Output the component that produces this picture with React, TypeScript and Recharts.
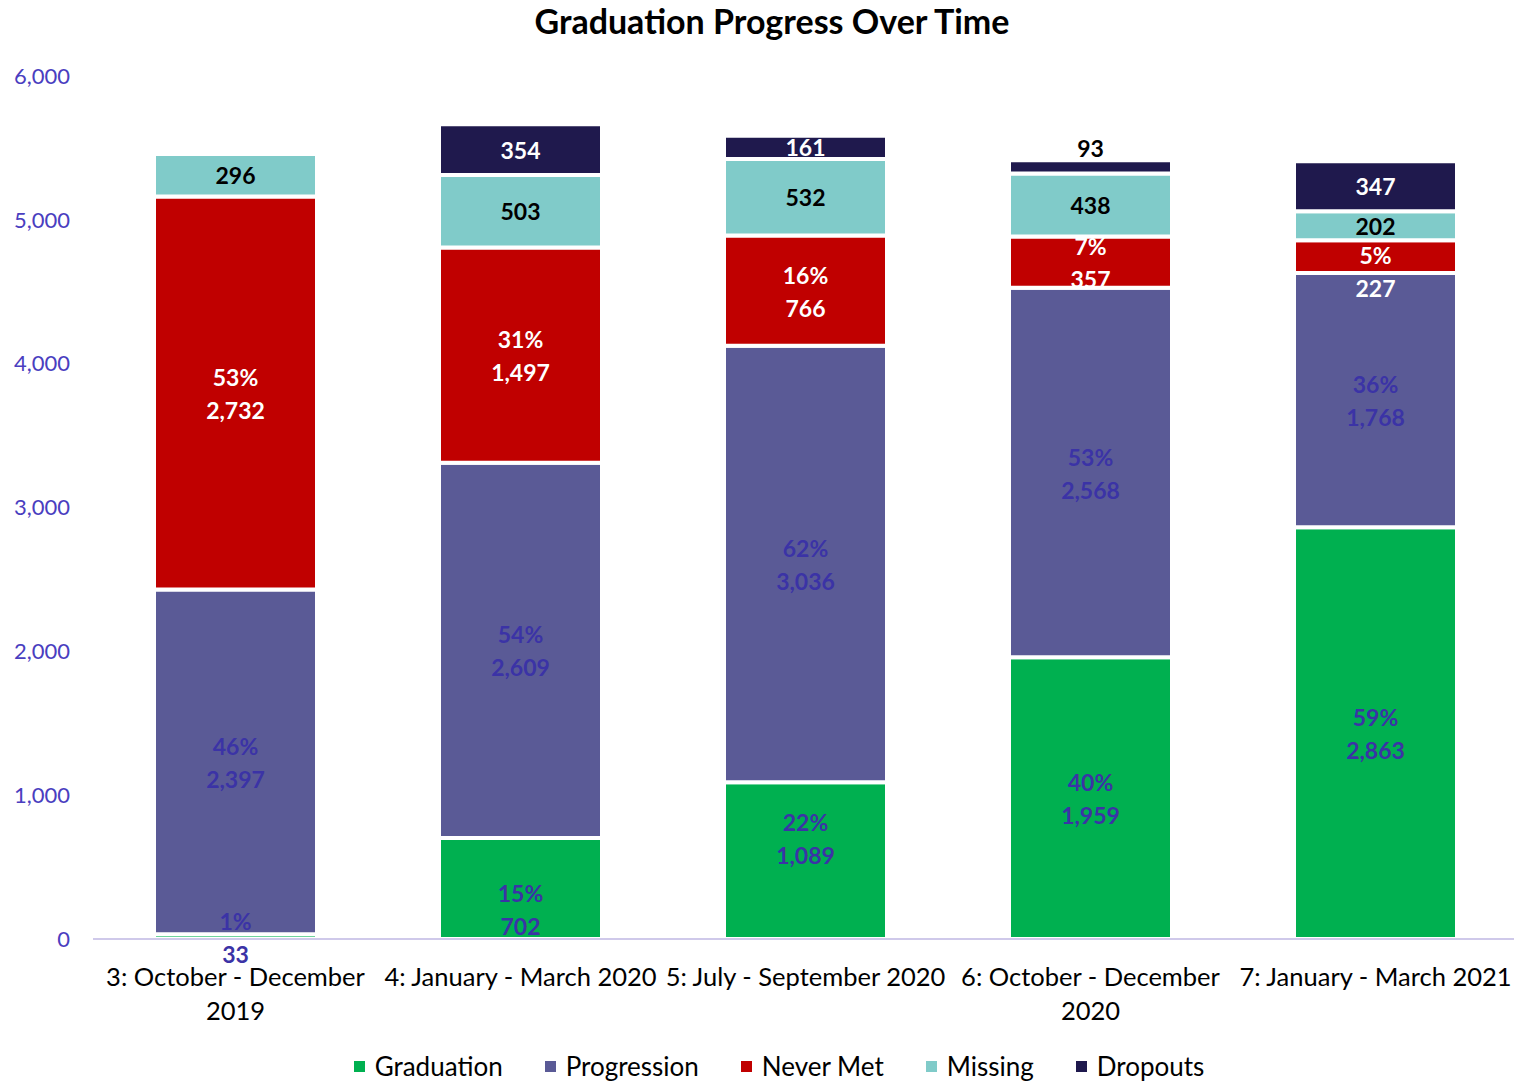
import React from 'react';
import { BarChart, Bar, XAxis, YAxis, LabelList } from 'recharts';

const categories = [
    '3: October - December 2019',
    '4: January - March 2020',
    '5: July - September 2020',
    '6: October - December 2020',
    '7: January - March 2021',
];
const graduation = [33, 702, 1089, 1959, 2863];
const progression = [2397, 2609, 3036, 2568, 1768];
const neverMet = [2732, 1497, 766, 357, 227];
const missing = [296, 503, 532, 438, 202];
const dropouts = [0, 354, 161, 93, 347];
const yTicks = [0, 1000, 2000, 3000, 4000, 5000, 6000];

const SERIES = [
    { key: 'graduation', name: 'Graduation', color: '#00B050' },
    { key: 'progression', name: 'Progression', color: '#5A5A96' },
    { key: 'neverMet', name: 'Never Met', color: '#C00000' },
    { key: 'missing', name: 'Missing', color: '#80CBC9' },
    { key: 'dropouts', name: 'Dropouts', color: '#1F194D' },
];

// a few labels were dragged by hand in the original (px, +down)
const labelNudge: Record<string, number[]> = {
    graduation: [0, 20, -23, 0, 0],
    neverMet: [0, 0, 0, 0, 14],
};

const FONT = 'Lato, "Open Sans", sans-serif';
const LABEL_BLUE = '#3B33A6';

const data = categories.map((name, i) => ({
    name,
    graduation: graduation[i],
    progression: progression[i],
    neverMet: neverMet[i],
    missing: missing[i],
    dropouts: dropouts[i],
    base: graduation[i] + progression[i] + neverMet[i],
}));

const fmt = (v: number) => v.toLocaleString('en-US');

// two-line label: share of graduation+progression+never met, then count
function pctLabel(key: 'graduation' | 'progression' | 'neverMet', fill: string) {
    return (p: any) => {
        const { x, y, width, height, index } = p;
        const row = data[index];
        const v = row[key];
        if (!v) return null;
        const pct = Math.round((v / row.base) * 100);
        const cx = x + width / 2;
        const cy = y + height / 2 + (labelNudge[key]?.[index] ?? 0);
        return (
            <g>
                <text x={cx} y={cy - 16} textAnchor="middle" dominantBaseline="central"
                    fill={fill} fontSize={23} fontWeight={700} fontFamily={FONT}>{pct}%</text>
                <text x={cx} y={cy + 17} textAnchor="middle" dominantBaseline="central"
                    fill={fill} fontSize={23} fontWeight={700} fontFamily={FONT}>{fmt(v)}</text>
            </g>
        );
    };
}

function valueLabel(fill: string, smallFill: string) {
    return (p: any) => {
        const { x, y, width, height, value } = p;
        if (!value) return null;
        const small = Math.abs(height) < 18;
        const cy = small ? y - 12 : y + height / 2;
        return (
            <text x={x + width / 2} y={cy} textAnchor="middle" dominantBaseline="central"
                fill={small ? smallFill : fill} fontSize={23} fontWeight={700} fontFamily={FONT}>
                {fmt(value)}
            </text>
        );
    };
}

function CategoryTick(props: any) {
    const { x, y, payload } = props;
    const label: string = payload.value;
    let lines = [label];
    if (label.length > 24) {
        const cut = label.lastIndexOf(' ');
        lines = [label.slice(0, cut), label.slice(cut + 1)];
    }
    return (
        <g>
            {lines.map((l, i) => (
                <text key={i} x={x} y={y + 39 + i * 34} textAnchor="middle" fill="#000"
                    fontSize={25.5} fontFamily={FONT}>{l}</text>
            ))}
        </g>
    );
}

function LegendRow() {
    return (
        <div style={{ display: 'flex', justifyContent: 'center', gap: 42, fontFamily: FONT, fontSize: 26, color: '#000' }}>
            {SERIES.map(s => (
                <div key={s.key} style={{ display: 'flex', alignItems: 'center' }}>
                    <span style={{ width: 11, height: 11, background: s.color, marginRight: 10, display: 'inline-block' }} />
                    {s.name}
                </div>
            ))}
        </div>
    );
}

export default function App() {
    return (
        <div style={{ position: 'fixed', left: 0, top: 0, width: 1514, height: 1083, background: '#fff', overflow: 'hidden' }}>
            <div style={{ position: 'absolute', top: 0, left: 472, width: 600, textAlign: 'center',
                fontFamily: FONT, fontWeight: 700, fontSize: 34, color: '#000' }}>
                Graduation Progress Over Time
            </div>
            <div style={{ position: 'absolute', top: 0, left: 0 }}>
                <BarChart width={1518} height={1040} data={data}
                    margin={{ top: 76, right: 0, left: 0, bottom: 0 }} barSize={163}>
                    <YAxis domain={[0, 6000]} ticks={yTicks} interval={0} width={93}
                        axisLine={false} tickLine={false} tickMargin={17}
                        tick={{ fill: '#4A3EC0', fontSize: 22, fontFamily: FONT }}
                        tickFormatter={(v) => fmt(Number(v))} />
                    <XAxis dataKey="name" interval={0} height={101} tickLine={false}
                        axisLine={{ stroke: '#CFC9EA', strokeWidth: 2 }} tick={<CategoryTick />} />
                    {SERIES.map(s => (
                        <Bar key={s.key} dataKey={s.key} name={s.name} stackId="a" fill={s.color}
                            stroke="#fff" strokeWidth={4} isAnimationActive={false}>
                            {s.key === 'graduation' && <LabelList dataKey="graduation" content={pctLabel('graduation', LABEL_BLUE)} />}
                            {s.key === 'progression' && <LabelList dataKey="progression" content={pctLabel('progression', LABEL_BLUE)} />}
                            {s.key === 'neverMet' && <LabelList dataKey="neverMet" content={pctLabel('neverMet', '#fff')} />}
                            {s.key === 'missing' && <LabelList dataKey="missing" content={valueLabel('#000', '#000')} />}
                            {s.key === 'dropouts' && <LabelList dataKey="dropouts" content={valueLabel('#fff', '#000')} />}
                        </Bar>
                    ))}
                </BarChart>
            </div>
            <div style={{ position: 'absolute', top: 1050, left: 22, width: 1514 }}>
                <LegendRow />
            </div>
        </div>
    );
}
